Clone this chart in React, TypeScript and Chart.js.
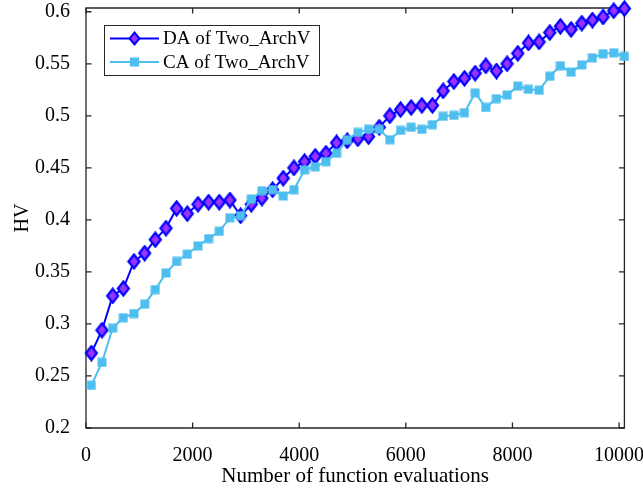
import React, { useEffect, useRef } from "react";
import { Chart, registerables } from "chart.js";

Chart.register(...registerables);

const evaluations = [
  100, 300, 500, 700, 900, 1100, 1300, 1500, 1700, 1900,
  2100, 2300, 2500, 2700, 2900, 3100, 3300, 3500, 3700, 3900,
  4100, 4300, 4500, 4700, 4900, 5100, 5300, 5500, 5700, 5900,
  6100, 6300, 6500, 6700, 6900, 7100, 7300, 7500, 7700, 7900,
  8100, 8300, 8500, 8700, 8900, 9100, 9300, 9500, 9700, 9900, 10100,
];

const daValues = [
  0.272, 0.294, 0.327, 0.334, 0.36, 0.368, 0.381, 0.392, 0.411, 0.406,
  0.415, 0.417, 0.417, 0.419, 0.404, 0.415, 0.421, 0.429, 0.44, 0.45,
  0.456, 0.461, 0.464, 0.474, 0.476, 0.478, 0.48, 0.489, 0.5, 0.506,
  0.508, 0.51, 0.51, 0.524, 0.533, 0.536, 0.541, 0.548, 0.543, 0.55,
  0.56, 0.57, 0.571, 0.58, 0.586, 0.583, 0.589, 0.592, 0.595, 0.601, 0.603,
];

const caValues = [
  0.241, 0.263, 0.296, 0.306, 0.31, 0.319, 0.333, 0.349, 0.36, 0.367,
  0.375, 0.382, 0.389, 0.402, 0.404, 0.42, 0.428, 0.429, 0.423, 0.429,
  0.448, 0.451, 0.456, 0.464, 0.477, 0.484, 0.487, 0.487, 0.477, 0.486,
  0.489, 0.487, 0.4915, 0.4995, 0.5005, 0.503, 0.522, 0.508, 0.5165, 0.52,
  0.5285, 0.5255, 0.5245, 0.538, 0.548, 0.542, 0.549, 0.5557, 0.5596, 0.5605, 0.557,
];

const xTicks = [0, 2000, 4000, 6000, 8000, 10000];
const yTicks = [0.2, 0.25, 0.3, 0.35, 0.4, 0.45, 0.5, 0.55, 0.6];
const seriesNames = ["DA of Two_ArchV", "CA of Two_ArchV"];

const DA_LINE = "#0000FF";
const DA_FACE = "#9933FF";
const CA_COLOR = "#4DBEEE";
const AXIS_COLOR = "#262626";
const FONT = "'Liberation Serif', 'Times New Roman', serif";

const framePlugin = {
  id: "matlabFrame",
  beforeDatasetsDraw(chart: any) {
    const { ctx, chartArea } = chart;
    const { left, right, top, bottom } = chartArea;
    const xs = chart.scales.x;
    const ys = chart.scales.y;
    const tl = 5.5;
    ctx.save();
    ctx.strokeStyle = AXIS_COLOR;
    ctx.lineWidth = 1.3;
    ctx.beginPath();
    ctx.rect(left, top, right - left, bottom - top);
    ctx.stroke();
    ctx.beginPath();
    xTicks.forEach((v) => {
      const px = xs.getPixelForValue(v);
      ctx.moveTo(px, bottom);
      ctx.lineTo(px, bottom - tl);
      ctx.moveTo(px, top);
      ctx.lineTo(px, top + tl);
    });
    yTicks.forEach((v) => {
      const py = ys.getPixelForValue(v);
      ctx.moveTo(left, py);
      ctx.lineTo(left + tl, py);
      ctx.moveTo(right, py);
      ctx.lineTo(right - tl, py);
    });
    ctx.stroke();
    ctx.restore();
  },
  afterDraw(chart: any) {
    const { ctx, chartArea } = chart;
    const bx = chartArea.left + 18;
    const by = chartArea.top + 17;
    const bw = 215;
    const bh = 50;
    ctx.save();
    ctx.fillStyle = "#ffffff";
    ctx.fillRect(bx, by, bw, bh);
    ctx.strokeStyle = AXIS_COLOR;
    ctx.lineWidth = 1;
    ctx.strokeRect(bx + 0.5, by + 0.5, bw, bh);
    const rows = [by + 13.5, by + 37];
    const x0 = bx + 6;
    const x1 = bx + 55;
    const xm = (x0 + x1) / 2;
    ctx.lineWidth = 2;
    ctx.strokeStyle = DA_LINE;
    ctx.beginPath();
    ctx.moveTo(x0, rows[0]);
    ctx.lineTo(x1, rows[0]);
    ctx.stroke();
    ctx.beginPath();
    ctx.moveTo(xm, rows[0] - 6);
    ctx.lineTo(xm + 5, rows[0]);
    ctx.lineTo(xm, rows[0] + 6);
    ctx.lineTo(xm - 5, rows[0]);
    ctx.closePath();
    ctx.fillStyle = DA_FACE;
    ctx.fill();
    ctx.stroke();
    ctx.strokeStyle = CA_COLOR;
    ctx.beginPath();
    ctx.moveTo(x0, rows[1]);
    ctx.lineTo(x1, rows[1]);
    ctx.stroke();
    ctx.fillStyle = CA_COLOR;
    ctx.fillRect(xm - 4.5, rows[1] - 4.5, 9, 9);
    ctx.fillStyle = "#000000";
    ctx.font = "19px " + FONT;
    ctx.textBaseline = "middle";
    ctx.textAlign = "left";
    ctx.fillText(seriesNames[0], x1 + 4, rows[0] + 1);
    ctx.fillText(seriesNames[1], x1 + 4, rows[1] + 1);
    ctx.restore();
  },
};

function makeDiamond(): HTMLCanvasElement {
  const c = document.createElement("canvas");
  c.width = 15;
  c.height = 17;
  const g = c.getContext("2d")!;
  g.beginPath();
  g.moveTo(7.5, 1.5);
  g.lineTo(13, 8.5);
  g.lineTo(7.5, 15.5);
  g.lineTo(2, 8.5);
  g.closePath();
  g.fillStyle = DA_FACE;
  g.fill();
  g.lineWidth = 2.2;
  g.strokeStyle = DA_LINE;
  g.stroke();
  return c;
}

function makeSquare(): HTMLCanvasElement {
  const c = document.createElement("canvas");
  c.width = 10;
  c.height = 10;
  const g = c.getContext("2d")!;
  g.fillStyle = CA_COLOR;
  g.fillRect(0.5, 0.5, 9, 9);
  return c;
}

export default function App() {
  const ref = useRef<HTMLCanvasElement>(null);
  useEffect(() => {
    document.body.style.margin = "0";
    const canvas = ref.current!;
    const diamond = makeDiamond();
    const square = makeSquare();
    const chart = new Chart(canvas, {
      type: "line",
      data: {
        datasets: [
          {
            label: seriesNames[1],
            data: evaluations.map((x, i) => ({ x, y: caValues[i] })),
            borderColor: CA_COLOR,
            backgroundColor: CA_COLOR,
            borderWidth: 2,
            pointStyle: square as any,
            pointRadius: 5,
            tension: 0,
            clip: false as any,
          },
          {
            label: seriesNames[0],
            data: evaluations.map((x, i) => ({ x, y: daValues[i] })),
            borderColor: DA_LINE,
            backgroundColor: DA_FACE,
            borderWidth: 2,
            pointStyle: diamond as any,
            pointRadius: 6,
            tension: 0,
            clip: false as any,
          },
        ],
      },
      options: {
        responsive: false,
        animation: false,
        devicePixelRatio: 1,
        layout: { padding: { top: 7, right: 18.6, left: 0, bottom: 0 } },
        plugins: {
          legend: { display: false },
          tooltip: { enabled: false },
        },
        scales: {
          x: {
            type: "linear",
            min: 0,
            max: 10100,
            afterFit: (s: any) => {
              s.height = 64;
              s.paddingLeft = 0;
              s.paddingRight = 0;
            },
            afterBuildTicks: (s: any) => {
              s.ticks = xTicks.map((v) => ({ value: v }));
            },
            grid: { display: false },
            border: { display: false },
            ticks: {
              color: "#000000",
              font: { family: FONT, size: 20 },
              padding: 8,
              maxRotation: 0,
              autoSkip: false,
              callback: (v: any) => String(Number(v)),
            },
            title: {
              display: true,
              text: "Number of function evaluations",
              color: "#000000",
              font: { family: FONT, size: 21 },
              padding: { top: 0, bottom: 3 },
            },
          },
          y: {
            type: "linear",
            min: 0.2,
            max: 0.6036,
            afterFit: (s: any) => {
              s.width = 86;
              s.paddingTop = 0;
              s.paddingBottom = 0;
            },
            afterBuildTicks: (s: any) => {
              s.ticks = yTicks.map((v) => ({ value: v }));
            },
            grid: { display: false },
            border: { display: false },
            ticks: {
              color: "#000000",
              font: { family: FONT, size: 20 },
              padding: 8,
              autoSkip: false,
              callback: (v: any) => String(Number(v)),
            },
            title: {
              display: true,
              text: "HV",
              color: "#000000",
              font: { family: FONT, size: 20 },
              padding: { top: 11, bottom: 0 },
            },
          },
        },
      } as any,
      plugins: [framePlugin],
    });
    return () => chart.destroy();
  }, []);
  return <canvas ref={ref} width={643} height={492} style={{ display: "block" }} />;
}
